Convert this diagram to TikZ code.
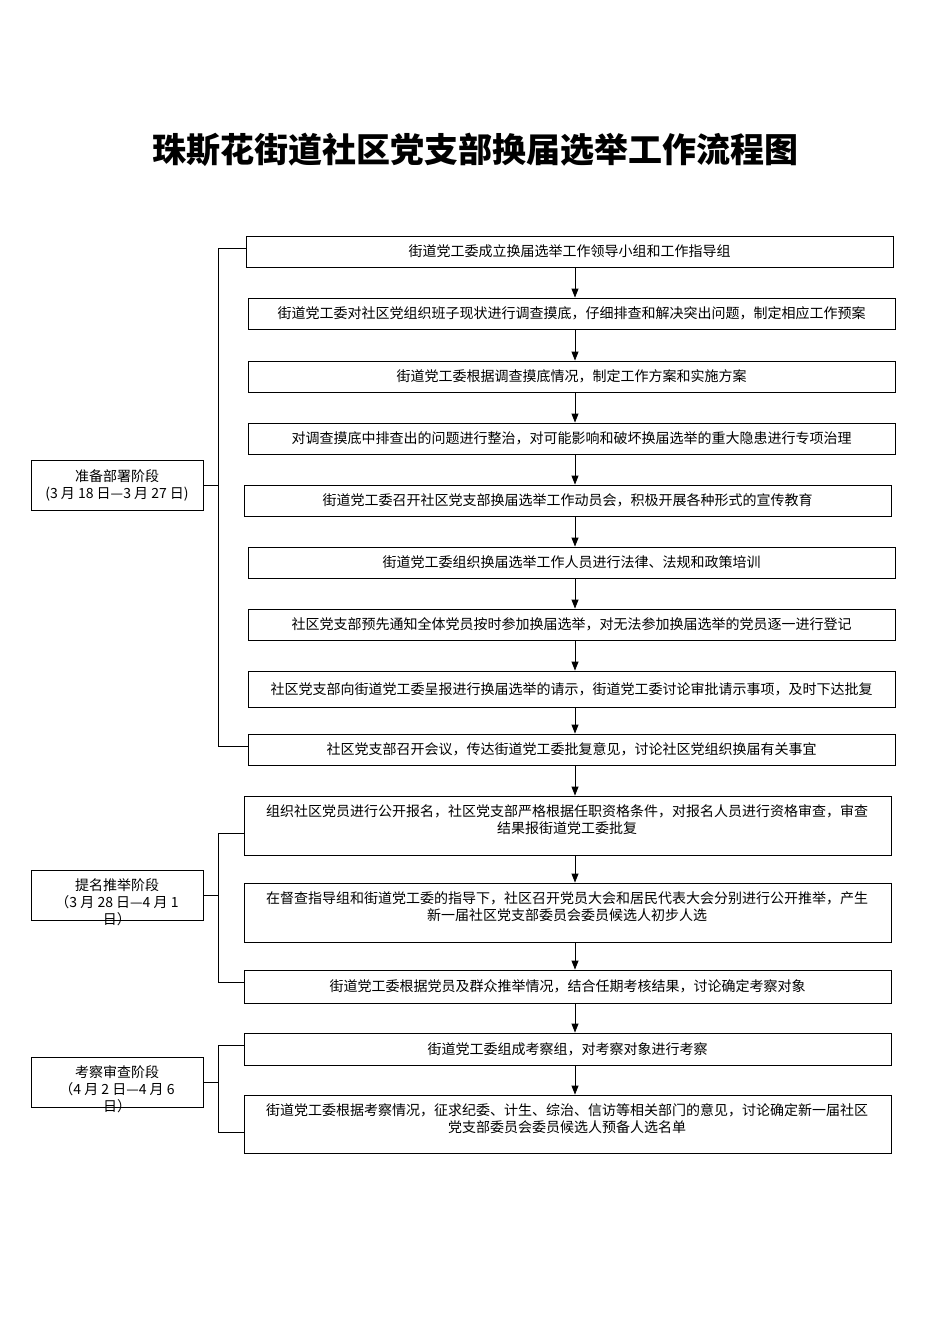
\documentclass[tikz,border=0pt]{standalone}
\usepackage{fontspec}
\setmainfont{Liberation Serif}
\newfontfamily\cjk{Noto Sans CJK SC}
\usetikzlibrary{arrows.meta}
\begin{document}
\begin{tikzpicture}[x=1pt,y=-1pt,
  txt/.style={font=\cjk\fontsize{14}{17}\selectfont,align=center},
  box/.style={draw,line width=0.9pt,inner sep=0,txt},
  arr/.style={-{Triangle[length=9pt,width=7pt]},line width=0.9pt},
  br/.style={line width=0.9pt}]
\useasboundingbox (0,0) rectangle (950,1344);
\node[font=\cjk\bfseries\fontsize{34}{40}\selectfont] (title) at (475,150) {珠斯花街道社区党支部换届选举工作流程图};
\newcommand{\bx}[6]{\node[box,minimum width=#4-#2,minimum height=#5-#3] (#1) at ({(#2+#4)/2},{(#3+#5)/2}) {#6};}
\bx{b1}{246}{236}{893}{267}{街道党工委成立换届选举工作领导小组和工作指导组}
\bx{b2}{248}{298}{895}{329}{街道党工委对社区党组织班子现状进行调查摸底，仔细排查和解决突出问题，制定相应工作预案}
\bx{b3}{248}{361}{895}{392}{街道党工委根据调查摸底情况，制定工作方案和实施方案}
\bx{b4}{248}{423}{895}{454}{对调查摸底中排查出的问题进行整治，对可能影响和破坏换届选举的重大隐患进行专项治理}
\bx{b5}{244}{485}{891}{516}{街道党工委召开社区党支部换届选举工作动员会，积极开展各种形式的宣传教育}
\bx{b6}{248}{547}{895}{578}{街道党工委组织换届选举工作人员进行法律、法规和政策培训}
\bx{b7}{248}{609}{895}{640}{社区党支部预先通知全体党员按时参加换届选举，对无法参加换届选举的党员逐一进行登记}
\bx{b8}{248}{671}{895}{707}{社区党支部向街道党工委呈报进行换届选举的请示，街道党工委讨论审批请示事项，及时下达批复}
\bx{b9}{248}{734}{895}{765}{社区党支部召开会议，传达街道党工委批复意见，讨论社区党组织换届有关事宜}
\bx{b10}{244}{796}{891}{855}{}
\node[txt,anchor=north] at (567,801) {组织社区党员进行公开报名，社区党支部严格根据任职资格条件，对报名人员进行资格审查，审查\\结果报街道党工委批复};
\bx{b11}{244}{883}{891}{942}{}
\node[txt,anchor=north] at (567,888) {在督查指导组和街道党工委的指导下，社区召开党员大会和居民代表大会分别进行公开推举，产生\\新一届社区党支部委员会委员候选人初步人选};
\bx{b12}{244}{970}{891}{1003}{街道党工委根据党员及群众推举情况，结合任期考核结果，讨论确定考察对象}
\bx{b13}{244}{1033}{891}{1065}{街道党工委组成考察组，对考察对象进行考察}
\bx{b14}{244}{1095}{891}{1153}{}
\node[txt,anchor=north] at (567,1100) {街道党工委根据考察情况，征求纪委、计生、综治、信访等相关部门的意见，讨论确定新一届社区\\党支部委员会委员候选人预备人选名单};
\foreach \a/\b in {b1/b2,b2/b3,b3/b4,b4/b5,b5/b6,b6/b7,b7/b8,b8/b9,b9/b10,b10/b11,b11/b12,b12/b13,b13/b14}
  \draw[arr] (575,0 |- \a.south) -- (575,0 |- \b.north);
% stages
\bx{s1}{31}{460}{203}{510}{准备部署阶段\\(3 月 18 日—3 月 27 日)}
\bx{s2}{31}{870}{203}{920}{}
\node[txt] at (117,902) {提名推举阶段\\（3 月 28 日—4 月 1\\日）};
\bx{s3}{31}{1057}{203}{1107}{}
\node[txt] at (117,1089) {考察审查阶段\\（4 月 2 日—4 月 6\\日）};
\coordinate (k1a) at (218,248); \coordinate (k1b) at (218,746);
\draw[br] (s1.east) -- (218,0 |- s1.east);
\draw[br] (b1.west |- k1a) -- (k1a) -- (k1b) -- (b9.west |- k1b);
\coordinate (k2a) at (218,833); \coordinate (k2b) at (218,982);
\draw[br] (s2.east) -- (218,0 |- s2.east);
\draw[br] (b10.west |- k2a) -- (k2a) -- (k2b) -- (b12.west |- k2b);
\coordinate (k3a) at (218,1045); \coordinate (k3b) at (218,1132);
\draw[br] (s3.east) -- (218,0 |- s3.east);
\draw[br] (b13.west |- k3a) -- (k3a) -- (k3b) -- (b14.west |- k3b);
\end{tikzpicture}
\end{document}
